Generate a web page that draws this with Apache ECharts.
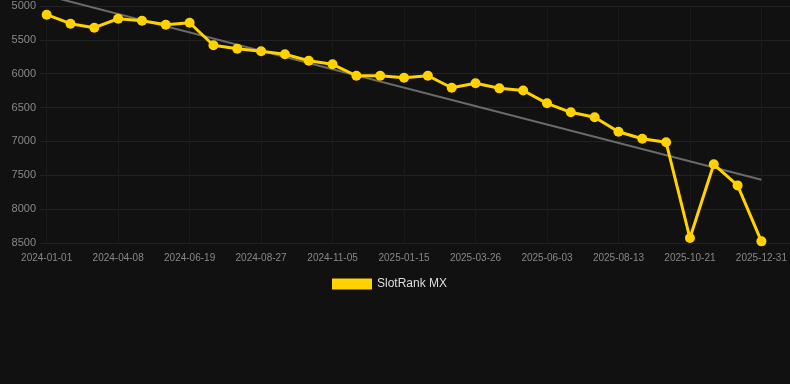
<!DOCTYPE html>
<html>
<head>
<meta charset="utf-8">
<script src="https://cdn.jsdelivr.net/npm/echarts@6/dist/echarts.min.js"></script>
<style>
html,body{margin:0;padding:0;background:#111111;}
#c{width:790px;height:384px;}
</style>
</head>
<body>
<div id="c"></div>
<script>
// Tick labels shown on the x axis (every third observation)
var tickLabels = ['2024-01-01','2024-04-08','2024-06-19','2024-08-27','2024-11-05','2025-01-15','2025-03-26','2025-06-03','2025-08-13','2025-10-21','2025-12-31'];
var tickIndex = [0,3,6,9,12,15,18,21,24,27,30];
// Rank values, one per observation (31 observations)
var rankValues = [5128,5261,5320,5188,5217,5276,5247,5580,5631,5668,5713,5808,5861,6030,6030,6059,6030,6207,6142,6216,6248,6437,6570,6644,6857,6960,7013,8427,7338,7649,8476];
// Trend line end points (start index/value, end index/value)
var trendStart = [0, 4846];
var trendEnd = [30, 7566];

var seriesData = rankValues.map(function(v,i){return [i,v];});
var labelMap = {};
tickIndex.forEach(function(t,i){labelMap[t]=tickLabels[i];});

var chart = echarts.init(document.getElementById('c'), null, {renderer:'canvas'});
chart.setOption({
  backgroundColor:'#111111',
  animation:false,
  grid:{left:40,right:0,top:6,bottom:141,containLabel:false},
  legend:{
    data:['SlotRank MX'],
    top:273,left:327,
    itemWidth:40,itemHeight:11,itemGap:6,
    icon:'rect',
    textStyle:{color:'#dddddd',fontSize:12,fontFamily:'Liberation Sans, Arial, sans-serif'}
  },
  xAxis:{
    type:'value',
    min:-0.28,max:31.2,
    axisLine:{show:false},
    axisTick:{show:false,customValues:tickIndex},
    splitLine:{show:true,lineStyle:{color:'#1a1a1a',width:1}},
    axisLabel:{
      customValues:tickIndex,
      color:'#888888',fontSize:10,margin:10,
      fontFamily:'Liberation Sans, Arial, sans-serif',
      formatter:function(v){return labelMap[Math.round(v)]||'';}
    }
  },
  yAxis:{
    type:'value',
    inverse:true,
    min:5000,max:8500,interval:500,
    axisLine:{show:false},
    axisTick:{show:false},
    splitLine:{show:true,lineStyle:{color:'#222222',width:1}},
    axisLabel:{color:'#888888',fontSize:11,margin:4,fontFamily:'Liberation Sans, Arial, sans-serif',
      formatter:function(v){return String(v);}}
  },
  series:[
    {
      name:'SlotRank MX',
      type:'line',
      data:seriesData,
      symbol:'circle',symbolSize:10,
      itemStyle:{color:'#ffd200'},
      lineStyle:{color:'#ffd200',width:3},
      z:3
    },
    {
      name:'trend',
      type:'line',
      data:[trendStart,trendEnd],
      symbol:'none',
      clip:false,
      lineStyle:{color:'#6a6a6a',width:2},
      z:2,
      silent:true
    }
  ]
});
</script>
</body>
</html>
